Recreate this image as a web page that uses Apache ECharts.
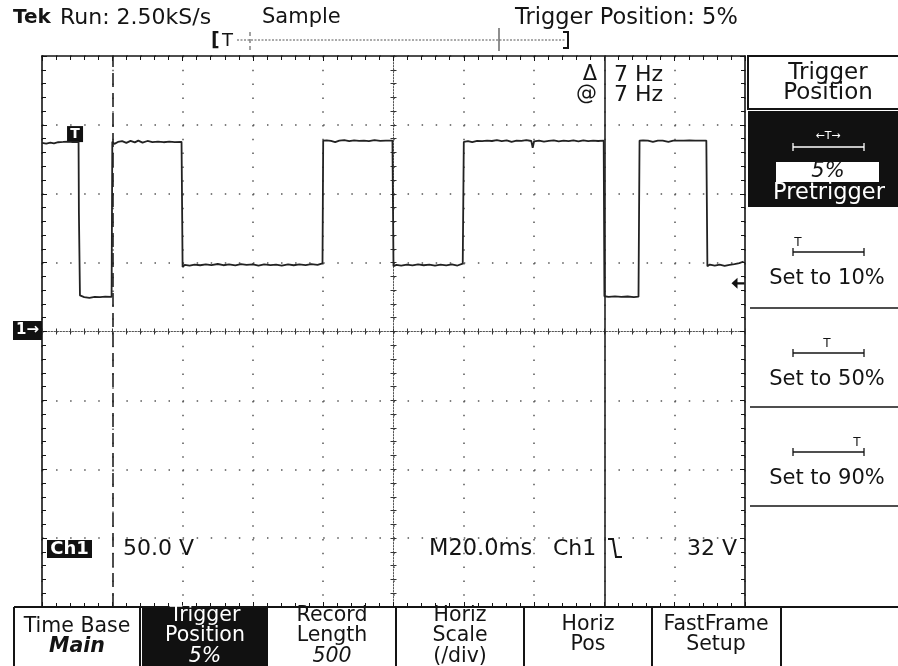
<!DOCTYPE html>
<html>
<head>
<meta charset="utf-8">
<script src="https://cdn.jsdelivr.net/npm/echarts@6/dist/echarts.min.js"></script>
<style>html,body{margin:0;padding:0;background:#fff;}#c{width:898px;height:666px;}</style>
</head>
<body>
<div id="c"></div>
<script>
// ---- data ----
// time axis: 20 ms/div, 10 divisions; volts: 50 V/div, 8 divisions
const timeTicksMs = [0, 20, 40, 60, 80, 100, 120, 140, 160, 180, 200];
const voltTicks = [-200, -150, -100, -50, 0, 50, 100, 150, 200];
// Ch1 trace samples [time ms, volts]
const traceSamples = [
  [0,137.0],[1.2,136.4],[2.4,137.2],[3.4,136.6],[4.6,137.4],[6,137.6],[7.4,137.9],[8.8,137.5],[10.4,137.6],
  [10.5,86],[10.7,86],[10.8,26.2],[12,25.0],[13.5,24.4],[15,25.2],[16.5,25.0],[18,25.3],[19.8,25.2],
  [20,137.8],[20.6,136.2],[21.6,137.6],[22.8,138.2],[24,136.9],[25.2,138.4],[26.4,137.3],[27.4,138.6],[28.6,137.1],
  [30,138.3],[31.4,137.4],[33,137.9],[34.6,137.4],[36.2,137.8],[37.8,137.5],[39.7,137.7],
  [40,46.8],[40.6,48.4],[42,47.9],[43.4,48.6],[45,48.1],[46.6,48.8],[48.2,48.2],[50,49.0],[51.6,48.1],[53.2,48.7],
  [55,48.0],[56.6,48.9],[58.2,48.3],[60,48.7],[61.6,47.9],[63.2,48.8],[65,48.2],[66.6,48.6],[68.2,47.9],[70,48.8],
  [71.6,48.1],[73.2,48.7],[75,48.2],[76.6,48.9],[78.4,48.3],[79.8,49.4],
  [80,138.6],[81,138.7],[82.2,138.4],[83.4,137.5],[84.6,138.6],[86,138.9],[87.4,138.2],[88.8,138.8],[90.2,138.4],
  [91.6,138.5],[93,138.2],[94.6,138.9],[96.2,138.4],[97.8,138.5],[99.7,138.6],
  [100,47.4],[100.8,48.4],[102.2,47.8],[103.8,48.5],[105.4,48.0],[107,48.7],[108.6,48.1],[110.2,48.6],[111.8,47.8],
  [113.4,48.5],[115,48.0],[116.6,48.7],[118.2,47.9],[119.7,49.2],
  [120,137.6],[120.4,138.8],[121.2,138.2],[122.4,137.5],[123.8,138.4],[125.2,138.2],[126.6,138.5],[128,138.3],
  [129.4,138.9],[130.8,138.2],[132.2,138.8],[133.6,137.6],[135,138.5],[136.4,138.4],[137.8,138.9],[139.2,138.3],
  [139.6,133.4],[140,138.1],[141.4,138.6],[142.8,137.9],[144.2,138.4],[145.6,138.8],[147,138.1],[148.4,138.6],
  [149.8,138.2],[151.2,138.7],[152.6,138.1],[154,138.8],[155.4,138.2],[156.8,138.6],[158.2,138.3],[159.8,138.5],
  [160,25.6],[161.2,25.2],[163,25.5],[164.8,25.1],[166.6,25.4],[168.4,24.9],[169.7,25.3],
  [170,138.6],[171,138.7],[172.4,138.5],[173.8,137.6],[175.2,138.5],[176.6,138.6],[178.2,137.7],[179.6,138.5],
  [181,138.6],[182.6,138.5],[184.2,138.7],[185.8,138.5],[187.4,138.6],[189,138.6],
  [189.3,47.4],[190,48.6],[191.4,47.8],[192.8,48.5],[194.2,47.6],[195.6,48.4],[197,48.9],[198.4,49.6],[199.6,50.8]
];
const triggerTimeMs = 9.4;
const triggerLevelV = 35;
const cursorInactiveMs = 20;
const cursorActiveMs = 160;

// texts
const statusLeft = ['Tek', 'Run: 2.50kS/s', 'Sample'];
const statusRight = 'Trigger Position: 5%';
const cursorReadout = [['\u0394', '7 Hz'], ['@', '7 Hz']];
const scaleTexts = ['Ch1', '50.0 V', 'M20.0ms', 'Ch1', '32 V'];
const sideHeader = ['Trigger', 'Position'];
const sideItems = ['Set to 10%', 'Set to 50%', 'Set to 90%'];
const bottomMenu = [
  ['Time Base', 'Main'],
  ['Trigger', 'Position', '5%'],
  ['Record', 'Length', '500'],
  ['Horiz', 'Scale', '(/div)'],
  ['Horiz', 'Pos'],
  ['FastFrame', 'Setup']
];

// ---- rendering ----
const FONT = '"DejaVu Sans", sans-serif';
const INK = '#141414';
const GRID = {left: 42, top: 56, width: 703, height: 551};

function txt(s, x, y, opt) {
  opt = opt || {};
  const size = opt.size || 21;
  const f = (opt.italic ? 'italic ' : '') + (opt.bold ? 'bold ' : '') + size + 'px ' + FONT;
  return {type: 'text', z: opt.z || 20, style: {
    text: s, x: x, y: y, fill: opt.fill || INK, font: f,
    align: opt.align || 'left', textAlign: opt.align || 'left',
    verticalAlign: 'middle', textVerticalAlign: 'middle'
  }};
}
function line(x1, y1, x2, y2, opt) {
  opt = opt || {};
  return {type: 'line', z: opt.z || 15, shape: {x1, y1, x2, y2},
    style: {stroke: opt.stroke || INK, lineWidth: opt.w || 1.5, lineDash: opt.dash || null}};
}
function rect(x, y, w, h, opt) {
  opt = opt || {};
  return {type: 'rect', z: opt.z || 10, shape: {x, y, width: w, height: h},
    style: {fill: opt.fill || 'none', stroke: opt.stroke || null, lineWidth: opt.w || 0}};
}
function bracketBar(cx, y, white) {
  const c = white ? '#fff' : INK;
  return [
    line(cx - 35, y, cx + 36, y, {stroke: c, w: 1.3, z: 22}),
    line(cx - 35, y - 4, cx - 35, y + 4, {stroke: c, w: 1.3, z: 22}),
    line(cx + 36, y - 4, cx + 36, y + 4, {stroke: c, w: 1.3, z: 22})
  ];
}

const g = [];
// status line
g.push(txt(statusLeft[0], 13, 18, {bold: true, size: 20}));
g.push(txt(statusLeft[1], 60, 18, {size: 22}));
g.push(txt(statusLeft[2], 262, 18, {size: 21}));
g.push(txt(statusRight, 515, 18, {size: 22.5}));
// record view bar
g.push(txt('[', 211, 41, {size: 19, bold: true}));
g.push(txt('T', 222, 41, {size: 18}));
g.push(line(237, 40, 565, 40, {stroke: '#555', w: 1, dash: [2, 1.5]}));
g.push(line(250, 32, 250, 51, {stroke: '#444', w: 1, dash: [4, 3]}));
g.push(line(499, 28, 499, 51, {stroke: '#444', w: 1.2}));
g.push({type: 'polyline', z: 15, shape: {points: [[563, 32], [568, 32], [568, 48], [563, 48]]},
  style: {stroke: INK, lineWidth: 2, fill: null}});

// cursor readout
g.push(txt(cursorReadout[0][0], 597, 75, {align: 'right'}));
g.push(txt(cursorReadout[1][0], 597, 95, {align: 'right'}));
g.push(txt(cursorReadout[0][1], 614, 75, {size: 22}));
g.push(txt(cursorReadout[1][1], 614, 95, {size: 22}));

// scale readout inside graticule
g.push(rect(47, 540, 45, 18, {fill: '#111', z: 19}));
g.push(txt(scaleTexts[0], 69.5, 549, {fill: '#fff', bold: true, size: 18, align: 'center'}));
g.push(txt(scaleTexts[1], 123, 549, {size: 22}));
g.push(txt(scaleTexts[2], 429, 549, {size: 22.5}));
g.push(txt(scaleTexts[3], 553, 549, {size: 22}));
g.push({type: 'polyline', z: 20, shape: {points: [[608, 539], [613, 539], [616, 557], [622, 557]]},
  style: {stroke: INK, lineWidth: 2, fill: null}});
g.push(txt(scaleTexts[4], 737, 549, {align: 'right', size: 22}));

// ground marker
g.push(rect(13, 321, 29, 19, {fill: '#111', z: 19}));
g.push(txt('1\u2192', 27.5, 330.5, {fill: '#fff', bold: true, size: 15, align: 'center'}));

// side panel
g.push(rect(748, 56, 152, 53, {fill: '#fff', stroke: INK, w: 2}));
g.push(txt(sideHeader[0], 828, 73, {size: 23, align: 'center'}));
g.push(txt(sideHeader[1], 828, 93, {size: 23, align: 'center'}));
g.push(rect(748, 111, 152, 96, {fill: '#111'}));
g.push(txt('\u2190T\u2192', 828, 136, {size: 11, fill: '#fff', align: 'center'}));
bracketBar(828, 147, true).forEach(e => g.push(e));
g.push(rect(776, 162, 103, 20, {fill: '#fff', z: 21}));
g.push(txt('5%', 828, 172, {italic: true, size: 21, align: 'center', z: 22}));
g.push(txt('Pretrigger', 829, 193, {fill: '#fff', size: 22.5, align: 'center'}));
const sideY = [252, 353, 452];
const sideT = [798, 827, 857];
sideItems.forEach((s, i) => {
  g.push(txt('T', sideT[i], sideY[i] - 9, {size: 12, align: 'center'}));
  bracketBar(828, sideY[i], false).forEach(e => g.push(e));
  g.push(txt(s, 827, sideY[i] + 27, {size: 21, align: 'center'}));
});
[308, 407, 506].forEach(y => g.push(line(750, y, 898, y, {w: 1.5})));

// bottom menu
g.push(line(14, 607, 898, 607, {w: 2}));
g.push(rect(142, 608, 126, 60, {fill: '#111'}));
[14, 140, 396, 524, 652, 781].forEach(x => g.push(line(x, 607, x, 666, {w: 2})));
const menuCx = [77, 205, 332, 460, 588, 716];
bottomMenu.forEach((lines, i) => {
  const white = i === 1;
  const ys = lines.length === 3 ? [616, 636, 657] : (i === 0 ? [627, 647] : [625, 645]);
  lines.forEach((s, j) => {
    const isValue = (i === 0 && j === 1) || (lines.length === 3 && j === 2 && i !== 3);
    g.push(txt(s, menuCx[i], ys[j], {size: 20.5, align: 'center', fill: white ? '#fff' : INK,
      italic: isValue, bold: i === 0 && j === 1}));
  });
});

const xBase = {type: 'value', min: timeTicksMs[0], max: timeTicksMs[timeTicksMs.length - 1], interval: 20,
  axisLabel: {show: false}};
const yBase = {type: 'value', min: voltTicks[0], max: voltTicks[voltTicks.length - 1], interval: 50,
  axisLabel: {show: false}};
const borderLine = {show: true, onZero: false, lineStyle: {color: INK, width: 1.6}};
const centerLine = {show: true, onZero: false, lineStyle: {color: '#555', width: 1, type: [1.5, 1.5]}};

const option = {
  animation: false,
  backgroundColor: '#fff',
  grid: Object.assign({show: false}, GRID),
  xAxis: [
    Object.assign({}, xBase, {position: 'bottom', axisLine: borderLine,
      axisTick: {show: true, inside: true, length: 5, lineStyle: {color: INK}},
      minorTick: {show: true, splitNumber: 5, length: 4, lineStyle: {color: INK}},
      splitLine: {show: true, lineStyle: {color: '#555', width: 1.5, type: [1.5, 12.3]}}}),
    Object.assign({}, xBase, {position: 'top', axisLine: borderLine,
      axisTick: {show: true, inside: true, length: 5, lineStyle: {color: INK}},
      minorTick: {show: true, splitNumber: 5, length: 4, lineStyle: {color: INK}},
      splitLine: {show: false}}),
    Object.assign({}, xBase, {position: 'bottom', offset: -275.5, axisLine: centerLine,
      axisTick: {show: true, inside: true, length: 3, lineStyle: {color: '#333'}},
      minorTick: {show: true, splitNumber: 5, length: 3, lineStyle: {color: '#333'}},
      splitLine: {show: false}}),
    Object.assign({}, xBase, {position: 'top', offset: -275.5, axisLine: {show: false},
      axisTick: {show: true, inside: true, length: 3, lineStyle: {color: '#333'}},
      minorTick: {show: true, splitNumber: 5, length: 3, lineStyle: {color: '#333'}},
      splitLine: {show: false}})
  ],
  yAxis: [
    Object.assign({}, yBase, {position: 'left', axisLine: borderLine,
      axisTick: {show: true, inside: true, length: 5, lineStyle: {color: INK}},
      minorTick: {show: true, splitNumber: 5, length: 4, lineStyle: {color: INK}},
      splitLine: {show: true, lineStyle: {color: '#555', width: 1.5, type: [1.5, 12.56]}}}),
    Object.assign({}, yBase, {position: 'right', axisLine: borderLine,
      axisTick: {show: true, inside: true, length: 5, lineStyle: {color: INK}},
      minorTick: {show: true, splitNumber: 5, length: 4, lineStyle: {color: INK}},
      splitLine: {show: false}}),
    Object.assign({}, yBase, {position: 'left', offset: -351.5, axisLine: centerLine,
      axisTick: {show: true, inside: true, length: 3, lineStyle: {color: '#333'}},
      minorTick: {show: true, splitNumber: 5, length: 3, lineStyle: {color: '#333'}},
      splitLine: {show: false}}),
    Object.assign({}, yBase, {position: 'right', offset: -351.5, axisLine: {show: false},
      axisTick: {show: true, inside: true, length: 3, lineStyle: {color: '#333'}},
      minorTick: {show: true, splitNumber: 5, length: 3, lineStyle: {color: '#333'}},
      splitLine: {show: false}})
  ],
  series: [{
    type: 'line', xAxisIndex: 0, yAxisIndex: 0, data: traceSamples,
    showSymbol: false, symbol: 'none', clip: false, z: 5,
    lineStyle: {color: '#222', width: 1.8},
    markLine: {
      silent: true, symbol: ['none', 'none'], label: {show: false},
      data: [
        {xAxis: cursorInactiveMs, lineStyle: {color: '#222', width: 1.6, type: [14, 6]}},
        {xAxis: cursorActiveMs, lineStyle: {color: '#222', width: 1.6, type: 'solid'}}
      ]
    },
    markPoint: {
      silent: true,
      data: [
        {coord: [triggerTimeMs, 137.5], symbol: 'rect', symbolSize: [16, 16], symbolOffset: [0, -8],
          itemStyle: {color: '#111'},
          label: {show: true, formatter: 'T', color: '#fff', fontWeight: 'bold', fontSize: 14,
            fontFamily: 'DejaVu Sans'}},
        {coord: [200, triggerLevelV], symbol: 'path://M0,5 L6,0 L6,4 L13,4 L13,6 L6,6 L6,10 Z',
          symbolSize: [13, 11], symbolOffset: [-7, 0], symbolKeepAspect: false,
          itemStyle: {color: '#111'}, label: {show: false}}
      ]
    }
  }],
  graphic: g
};
const chart = echarts.init(document.getElementById('c'), null, {renderer: 'canvas'});
chart.setOption(option);
</script>
</body>
</html>
